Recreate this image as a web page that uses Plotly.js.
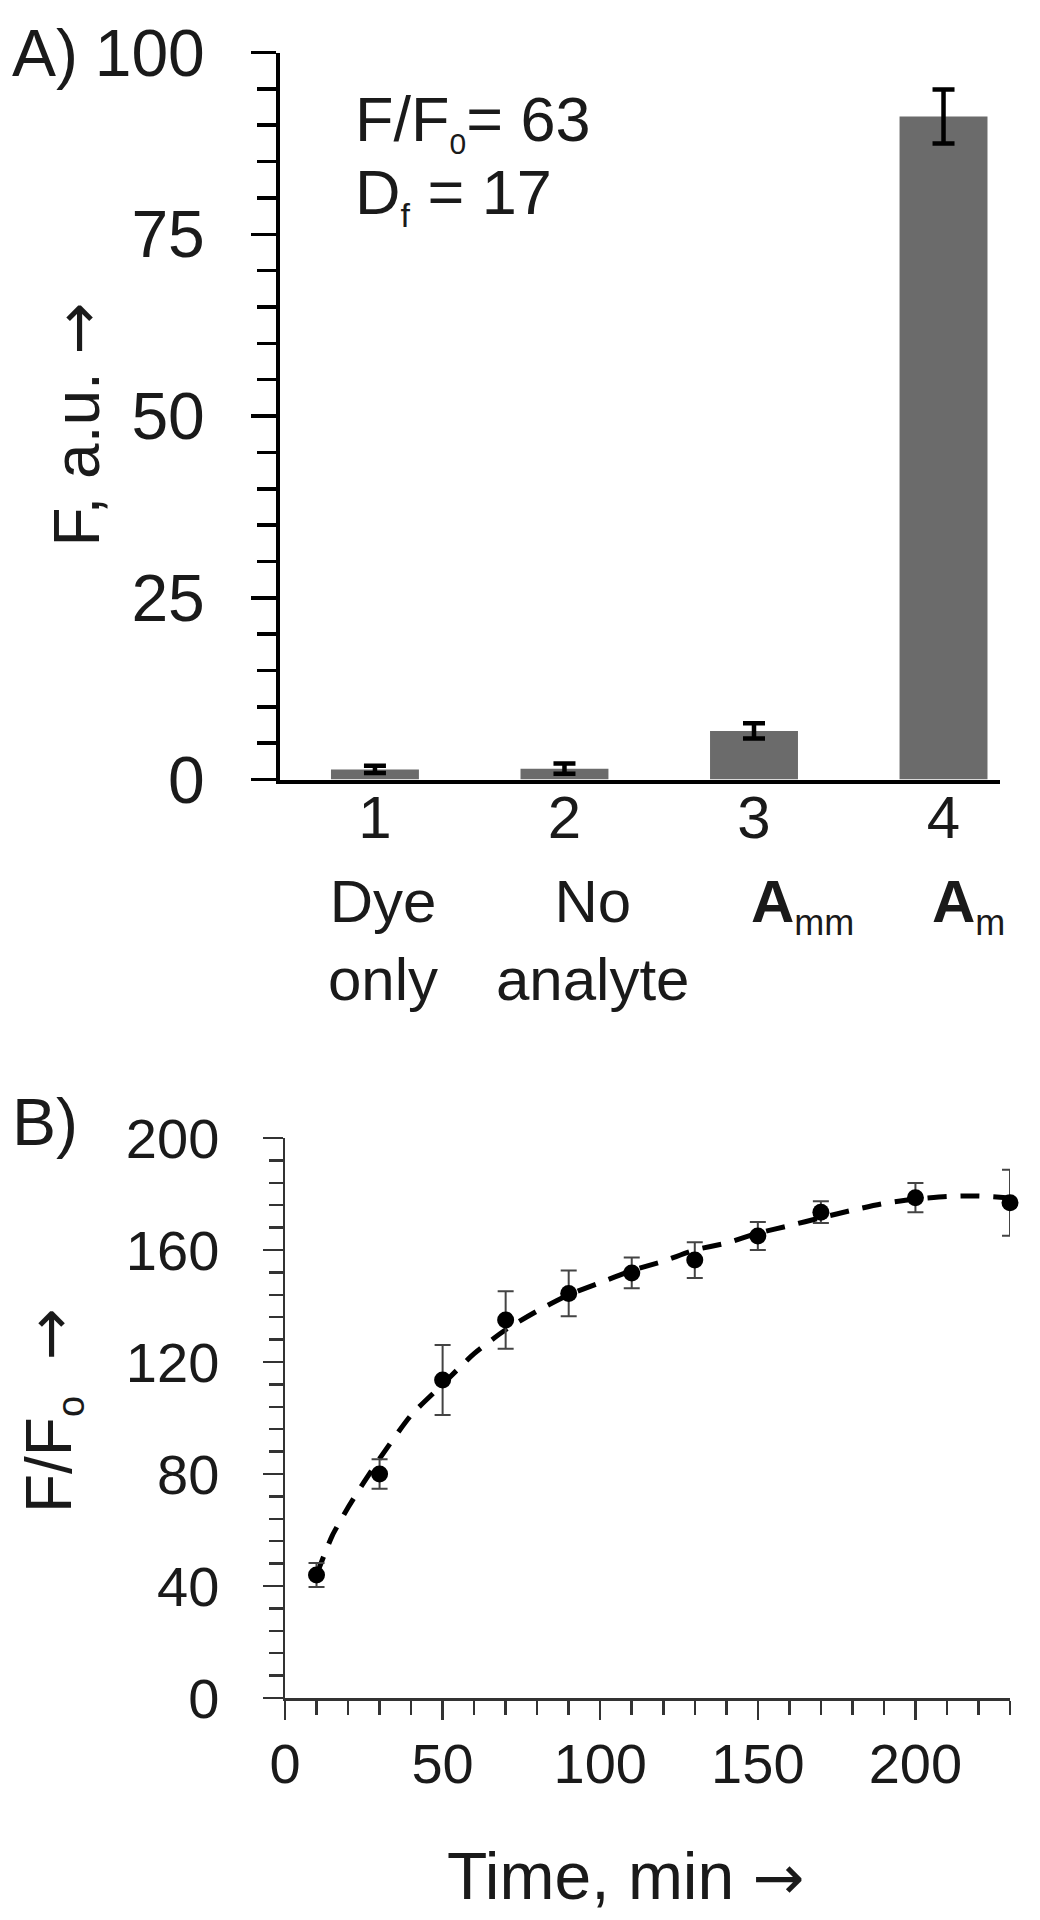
<!DOCTYPE html>
<html>
<head>
<meta charset="utf-8">
<script src="https://cdn.plot.ly/plotly-3.0.1.min.js"></script>
<style>
  html, body { margin: 0; padding: 0; background: #ffffff; }
  #chart { width: 1040px; height: 1920px; }
</style>
</head>
<body>
<div id="chart"></div>
<script>
// ---------- Panel A data ----------
const catPos = [1, 2, 3, 4];
const catNumbers = ['1', '2', '3', '4'];
const catNames = ['Dye<br>only', 'No<br>analyte',
  '<b>A</b><sub><span style="font-size:36px">mm</span></sub>',
  '<b>A</b><sub><span style="font-size:36px">m</span></sub>'];
const barValues = [1.4, 1.5, 6.7, 91.2];
const barErrors = [0.5, 0.7, 1.05, 3.7];

// ---------- Panel B data ----------
const timeMin = [10, 30, 50, 70, 90, 110, 130, 150, 170, 200, 230];
const ratioValues = [43.9, 80.0, 113.6, 135.0, 144.5, 151.8, 156.4, 165.0, 173.5, 178.7, 176.9];
const ratioErrors = [4.3, 5.3, 12.5, 10.3, 8.2, 5.5, 6.4, 5.0, 3.9, 5.2, 11.8];
const fitTime = [10, 15, 20, 25, 30, 40, 50, 60, 70, 80, 90, 100, 110, 120, 130, 140, 150, 160, 170, 180, 190, 200, 210, 220, 230];
const fitValues = [44, 58, 68, 77, 85.5, 101, 112, 123, 131.5, 138.2, 144, 148.3, 152.7, 156, 160, 162.5, 166, 168.7, 171.5, 174.2, 176.6, 178.2, 179.1, 179.3, 178.6];

// ---------- helpers / styles ----------
const W = 1040, H = 1920;
const px = v => v / W;
const py = v => 1 - v / H;
const FONT = 'Liberation Sans, Arial, Helvetica, sans-serif';
const INK = '#1a1a1a';
const ARROW = '<span style="font-family:\'DejaVu Sans\';font-size:62px">→</span>';
const nameShift = [8, 28, 48, 25];

const traces = [
  {
    type: 'bar', x: catPos, y: barValues, width: 0.464,
    marker: { color: '#6b6b6b', line: { width: 0 } },
    error_y: { type: 'data', array: barErrors, visible: true, color: '#000000', thickness: 4.5, width: 11 },
    xaxis: 'x', yaxis: 'y', hoverinfo: 'skip', cliponaxis: false
  },
  {
    type: 'scatter', mode: 'lines', x: fitTime, y: fitValues,
    line: { color: '#000000', width: 5, dash: '19px,14px', shape: 'spline', smoothing: 0.6 },
    xaxis: 'x2', yaxis: 'y2', hoverinfo: 'skip'
  },
  {
    type: 'scatter', mode: 'markers', x: timeMin, y: ratioValues,
    marker: { color: '#000000', size: 17 },
    error_y: { type: 'data', array: ratioErrors, visible: true, color: '#444444', thickness: 2, width: 8 },
    xaxis: 'x2', yaxis: 'y2', hoverinfo: 'skip', cliponaxis: false
  }
];

const annotations = [
  { text: 'A)', xref: 'paper', yref: 'paper', x: px(10), y: py(52.5), xanchor: 'left', yanchor: 'middle', showarrow: false, font: { size: 66 } },
  { text: 'B)', xref: 'paper', yref: 'paper', x: px(10), y: py(1122), xanchor: 'left', yanchor: 'middle', showarrow: false, font: { size: 66 } },
  { text: 'F/F<sub><span style="font-size:30px">0</span></sub>= 63', xref: 'paper', yref: 'paper', x: px(353), y: py(82), xanchor: 'left', yanchor: 'top', showarrow: false, font: { size: 63 } },
  { text: 'D<sub><span style="font-size:34px">f</span></sub> = 17', xref: 'paper', yref: 'paper', x: px(353), y: py(155), xanchor: 'left', yanchor: 'top', showarrow: false, font: { size: 63 } },
  { text: 'F, a.u. ' + ARROW, xref: 'paper', yref: 'paper', x: px(77.5), y: py(549), xanchor: 'center', yanchor: 'bottom', textangle: -90, showarrow: false, font: { size: 64 } },
  { text: 'F/F<sub><span style="font-size:38px">o</span></sub>  ' + ARROW, xref: 'paper', yref: 'paper', x: px(52.5), y: py(1515), xanchor: 'center', yanchor: 'bottom', textangle: -90, showarrow: false, font: { size: 64 } },
  { text: 'Time, min ' + ARROW, xref: 'paper', yref: 'paper', x: px(445), y: py(1876), xanchor: 'left', yanchor: 'middle', showarrow: false, font: { size: 66 } }
];
catNames.forEach((t, i) => {
  annotations.push({ text: t, xref: 'x', yref: 'paper', x: catPos[i], xshift: nameShift[i], y: py(866), xanchor: 'center', yanchor: 'top', align: 'center', showarrow: false, font: { size: 60 } });
});

const layout = {
  width: W, height: H,
  margin: { l: 0, r: 0, t: 0, b: 0 },
  paper_bgcolor: '#ffffff', plot_bgcolor: '#ffffff',
  showlegend: false,
  font: { family: FONT, color: INK },
  xaxis: {
    domain: [px(280), px(1000)], range: [0.499, 4.298], anchor: 'y',
    tickmode: 'array', tickvals: catPos, ticktext: catNumbers, ticks: '',
    showline: true, linewidth: 4, linecolor: '#000000',
    showgrid: false, zeroline: false, tickfont: { size: 60 }, ticklabelstandoff: -18, fixedrange: true
  },
  yaxis: {
    domain: [py(779.6), py(52.5)], range: [0, 100], anchor: 'x',
    tick0: 0, dtick: 25, ticks: 'outside', ticklen: 25, tickwidth: 3.5, tickcolor: '#000000',
    showline: true, linewidth: 4, linecolor: '#000000',
    showgrid: false, zeroline: false, tickfont: { size: 66 }, ticklabelstandoff: 33,
    minor: { tick0: 0, dtick: 5, ticks: 'outside', ticklen: 19, tickwidth: 3.5, tickcolor: '#000000', showgrid: false },
    fixedrange: true
  },
  xaxis2: {
    domain: [px(285), px(1010)], range: [0, 230], anchor: 'y2',
    tick0: 0, dtick: 50, ticks: 'outside', ticklen: 19, tickwidth: 2.5, tickcolor: '#333333',
    showline: true, linewidth: 2.5, linecolor: '#333333',
    showgrid: false, zeroline: false, tickfont: { size: 56 }, ticklabelstandoff: -4,
    minor: { tick0: 0, dtick: 10, ticks: 'outside', ticklen: 14, tickwidth: 2.5, tickcolor: '#333333', showgrid: false },
    fixedrange: true
  },
  yaxis2: {
    domain: [py(1698), py(1138)], range: [0, 200], anchor: 'x2',
    tick0: 0, dtick: 40, ticks: 'outside', ticklen: 20, tickwidth: 2.5, tickcolor: '#333333',
    showline: true, linewidth: 2.5, linecolor: '#333333',
    showgrid: false, zeroline: false, tickfont: { size: 56 }, ticklabelstandoff: 32,
    minor: { tick0: 0, dtick: 8, ticks: 'outside', ticklen: 14, tickwidth: 2.5, tickcolor: '#333333', showgrid: false },
    fixedrange: true
  },
  annotations: annotations
};

Plotly.newPlot('chart', traces, layout, { displayModeBar: false, staticPlot: true });
</script>
</body>
</html>
